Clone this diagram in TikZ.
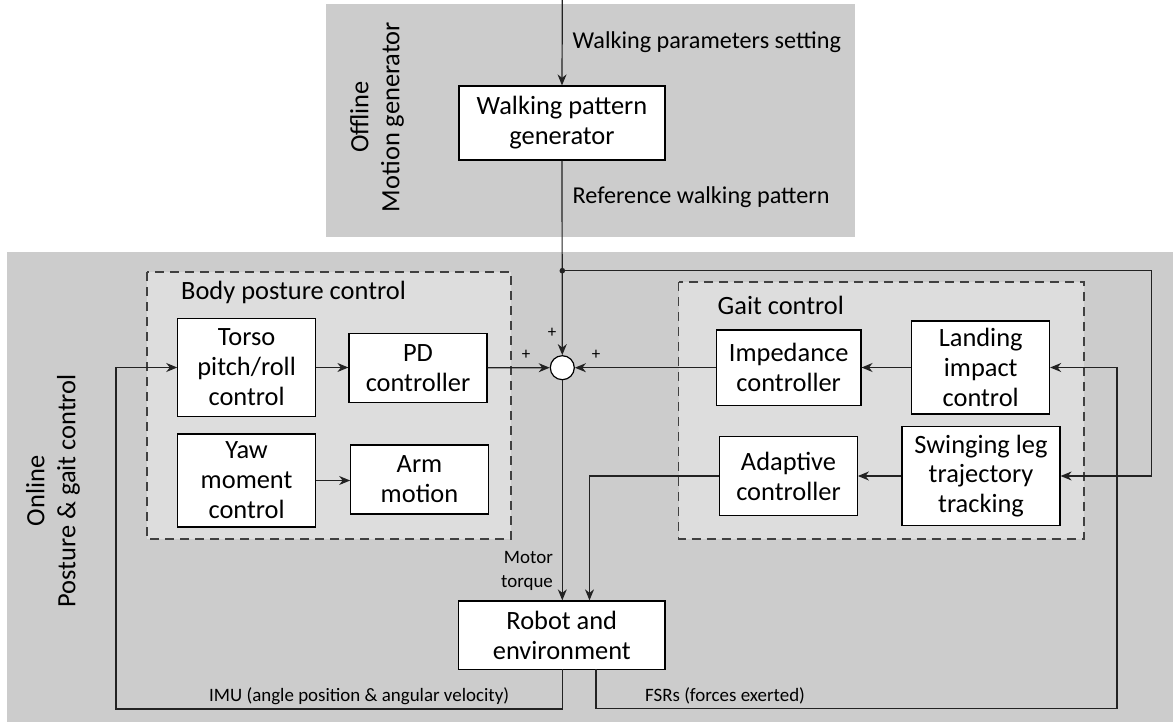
\documentclass[tikz,border=0pt]{standalone}
\usepackage{fontspec}
\setmainfont{Carlito}
\usetikzlibrary{arrows.meta,positioning}
\definecolor{zone}{HTML}{CCCCCC}
\definecolor{group}{HTML}{DDDDDD}
\definecolor{wire}{HTML}{222222}
\begin{document}
\begin{tikzpicture}[x=1bp,y=-1bp,
  block/.style={draw=black,line width=1.2bp,fill=white,inner sep=0pt,align=center,
    font=\fontsize{26.5}{30}\selectfont},
  grp/.style={draw=black!75,dashed,dash pattern=on 9bp off 6bp,line width=1.2bp,fill=group},
  conn/.style={draw=wire,line width=1.2bp,-{Stealth[length=11bp,width=9bp,inset=3.5bp]}},
  plain/.style={draw=wire,line width=1.2bp},
  lbl/.style={font=\fontsize{24.3}{28}\selectfont,inner sep=0pt},
  small/.style={font=\fontsize{19}{23.5}\selectfont,inner sep=0pt,align=right},
  title/.style={font=\fontsize{26.5}{31}\selectfont,inner sep=0pt,align=center,rotate=90},
  sgn/.style={font=\fontsize{17}{17}\selectfont,inner sep=0pt}]
\useasboundingbox (0,0) rectangle (1173,722);

% shaded zones
\fill[zone] (326,4) rectangle (855,237);
\fill[zone] (7,252) rectangle (1173,722);
\draw[grp] (147,272) rectangle (511,539);
\draw[grp] (678.5,282) rectangle (1084,539);

% zone titles
\node[title] (offl) at (377,117) {Offline\\Motion generator};
\node[title] (onl) at (53,491) {Online\\Posture \& gait control};
\node[lbl,anchor=west,font=\fontsize{26.5}{30}\selectfont] (bpc) at (181,292) {Body posture control};
\node[lbl,anchor=west,font=\fontsize{26.5}{30}\selectfont] (gc) at (717.5,305) {Gait control};

% blocks
\node[block,minimum width=206bp,minimum height=74bp] (wpg) at (562,123) {Walking pattern\\generator};
\node[block,minimum width=137.5bp,minimum height=98.5bp] (torso) at (246.6,367.5) {Torso\\pitch/roll\\control};
\node[block,minimum width=138bp,minimum height=69bp] (pd) at (418,367.8) {PD\\controller};
\node[block,minimum width=137.5bp,minimum height=93bp] (yaw) at (246.6,480.5) {Yaw\\moment\\control};
\node[block,minimum width=137.5bp,minimum height=69bp] (arm) at (419.5,479.4) {Arm\\motion};
\node[block,minimum width=144.5bp,minimum height=75.5bp] (imp) at (788.7,367.7) {Impedance\\controller};
\node[block,minimum width=137.7bp,minimum height=93bp] (land) at (980.7,367.5) {Landing\\impact\\control};
\node[block,minimum width=137.6bp,minimum height=79.5bp] (adapt) at (788.5,476) {Adaptive\\controller};
\node[block,minimum width=158bp,minimum height=98.6bp] (swing) at (981,476) {Swinging leg\\trajectory\\tracking};
\node[block,minimum width=206.5bp,minimum height=68.5bp] (robot) at (561.8,635.2) {Robot and\\environment};
\node[draw=black,line width=1.2bp,fill=white,circle,minimum size=24bp,inner sep=0pt] (sum) at (562.3,367.7) {};

% routing points
\coordinate (src) at (562.3,0);
\coordinate (tap) at (562.3,270.7);
\coordinate (tapR) at (1151.6,270.7);
\coordinate (imuA) at (562.5,669.4);
\coordinate (fsrA) at (596,669.4);
\coordinate (adTurn) at (589.5,476);

% connectors
\draw[conn] (src) -- (wpg.north);
\draw[conn] (wpg.south) -- (sum.north);
\fill[wire] (tap) circle (2.8bp);
\draw[conn] (tap) -- (tapR) |- (swing.east);
\draw[conn] (fsrA) -- (596,708.5) -- (1117,708.5) |- (land.east);
\draw[conn] (imuA) -- (562.5,709) -- (116,709) |- (torso.west);
\draw[conn] (torso.east) -- (torso.east -| pd.west);
\draw[conn] (yaw.east) -- (yaw.east -| arm.west);
\draw[conn] (pd.east) -- (sum.west);
\draw[conn] (land.west) -- (land.west -| imp.east);
\draw[conn] (imp.west) -- (sum.east);
\draw[conn] (swing.west) -- (adapt.east);
\draw[conn] (sum.south) -- (sum.south |- robot.north);
\draw[conn] (adapt.west) -- (adTurn) -- (adTurn |- robot.north);

% signal labels
\node[lbl,anchor=west] (wps) at (572.5,42) {Walking parameters setting};
\node[lbl,anchor=west] (rwp) at (572.5,197) {Reference walking pattern};
\node[small] (mt) at (527,571) {Motor\\torque};
\node[small,anchor=west] (imu) at (209,695.7) {IMU (angle position \& angular velocity)};
\node[small,anchor=west] (fsr) at (645,695.7) {FSRs (forces exerted)};
\node[sgn] (p1) at (552,333) {+};
\node[sgn] (p2) at (526,355) {+};
\node[sgn] (p3) at (596,355) {+};
\end{tikzpicture}
\end{document}
